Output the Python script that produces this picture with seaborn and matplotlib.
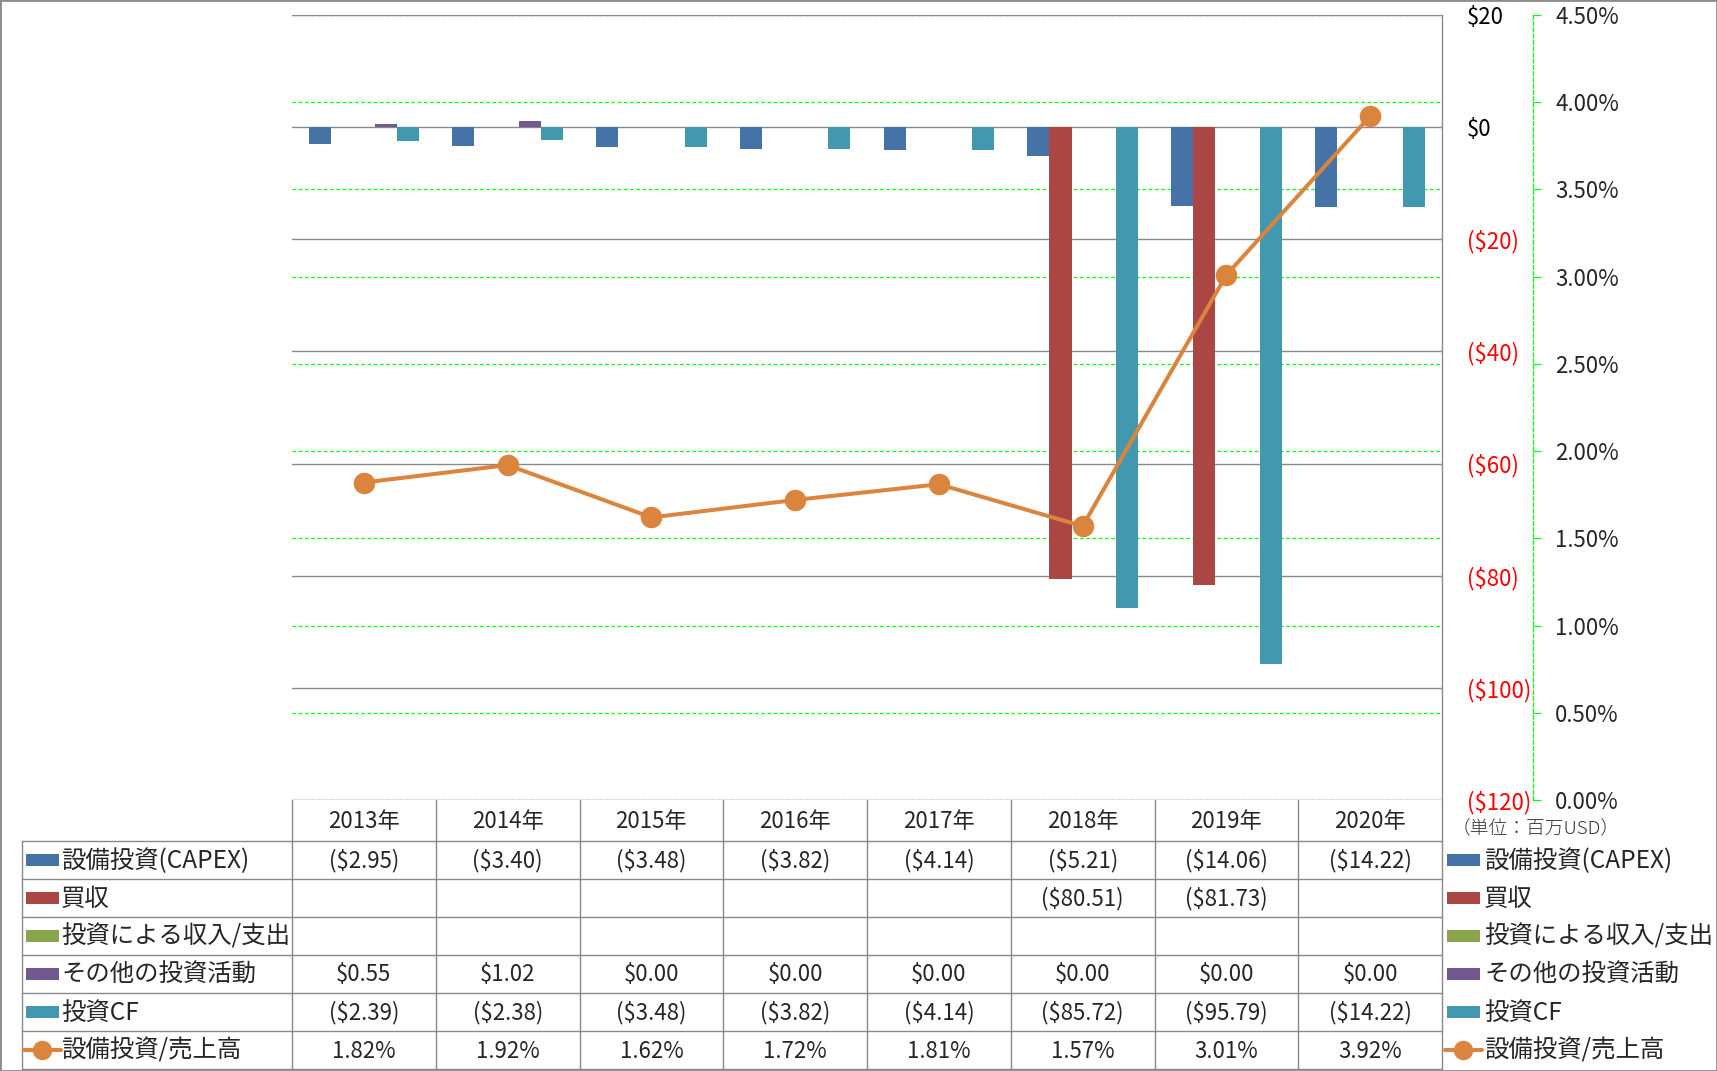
import matplotlib
matplotlib.use("Agg")
import matplotlib.pyplot as plt
import numpy as np
import pandas as pd
import seaborn as sns
from matplotlib.patches import Rectangle
from matplotlib.lines import Line2D

## DATA ##
years = ["2013年", "2014年", "2015年", "2016年", "2017年", "2018年", "2019年", "2020年"]
capex = [-2.95, -3.40, -3.48, -3.82, -4.14, -5.21, -14.06, -14.22]
acquisition = [np.nan, np.nan, np.nan, np.nan, np.nan, -80.51, -81.73, np.nan]
invest_inout = [np.nan] * 8
other_invest = [0.55, 1.02, 0.00, 0.00, 0.00, 0.00, 0.00, 0.00]
invest_cf = [-2.39, -2.38, -3.48, -3.82, -4.14, -85.72, -95.79, -14.22]
capex_ratio = [1.82, 1.92, 1.62, 1.72, 1.81, 1.57, 3.01, 3.92]

bar_names = ["設備投資(CAPEX)", "買収", "投資による収入/支出", "その他の投資活動", "投資CF"]
ratio_name = "設備投資/売上高"
bar_colors = ["#4572A7", "#AA4643", "#89A54E", "#71588F", "#4198AF"]
line_color = "#DB843D"

usd_ticks = [-120, -100, -80, -60, -40, -20, 0, 20]
pct_ticks = [0, 0.5, 1.0, 1.5, 2.0, 2.5, 3.0, 3.5, 4.0, 4.5]

## STYLE ##
sns.set_theme(style="white")
plt.rcParams['font.family'] = ['Noto Sans CJK JP', 'DejaVu Sans']
FS = 16          # numbers / ticks
FS_NAME = 17.6   # series names
GRAY = "#898989"
GREEN = "#00FF00"

# figure geometry in pixels (y from the top)
W, H = 1717, 1071
L, R, T, B = 292, 1442, 15, 800
cw = (R - L) / len(years)

def fx(px):
    return px / W

def fy(py):
    return 1 - py / H

fig = plt.figure(figsize=(W / 100, H / 100), dpi=100)
pos = [fx(L), fy(B), fx(R) - fx(L), fy(T) - fy(B)]

# back axis: secondary (%) scale with green dashed grid
ax_pct = fig.add_axes(pos)
# middle axis: bars on the $ scale
ax = fig.add_axes(pos)
# front axis: the ratio line
ax_line = fig.add_axes(pos)

## BARS ##
wide = pd.DataFrame({"年": years})
for name, vals in zip(bar_names, [capex, acquisition, invest_inout, other_invest, invest_cf]):
    wide[name] = vals
long = wide.melt(id_vars="年", var_name="項目", value_name="金額")

sns.barplot(data=long, x="年", y="金額", hue="項目", order=years, hue_order=bar_names,
            palette=bar_colors, width=5 / 6.5, errorbar=None, legend=False,
            saturation=1, ax=ax, linewidth=0)

ax.set_xlim(-0.5, len(years) - 0.5)
ax.set_ylim(-120, 20)
ax.set_xlabel("")
ax.set_ylabel("")
ax.set_xticks([])
ax.patch.set_visible(False)
ax.set_axisbelow(True)
ax.grid(axis="y", color=GRAY, linewidth=1.0, linestyle="-")
ax.grid(axis="x", visible=False)
for s in ["left", "top", "bottom"]:
    ax.spines[s].set_visible(False)
ax.spines["right"].set_color(GRAY)
ax.spines["right"].set_linewidth(1.0)
ax.yaxis.tick_right()
ax.set_yticks(usd_ticks)
ax.set_yticklabels([f"${v:.0f}" if v >= 0 else f"(${-v:.0f})" for v in usd_ticks])
for lab, v in zip(ax.get_yticklabels(), usd_ticks):
    lab.set_color("black" if v >= 0 else "#FF0000")
ax.tick_params(axis="y", length=0, pad=18, labelsize=FS)

## SECONDARY AXIS ##
ax_pct.set_xlim(-0.5, len(years) - 0.5)
ax_pct.set_ylim(0, 4.5)
ax_pct.set_xticks([])
ax_pct.yaxis.tick_right()
ax_pct.set_yticks(pct_ticks)
ax_pct.set_yticklabels([f"{v:.2f}%" for v in pct_ticks])
ax_pct.grid(axis="y", color=GREEN, linewidth=0.9, linestyle=(0, (3, 2)))
ax_pct.grid(axis="x", visible=False)
for s in ["left", "top", "bottom"]:
    ax_pct.spines[s].set_visible(False)
ax_pct.spines["right"].set_position(("outward", 65.5))
ax_pct.spines["right"].set_color(GREEN)
ax_pct.spines["right"].set_linestyle((0, (3, 2)))
ax_pct.spines["right"].set_linewidth(0.9)
ax_pct.tick_params(axis="y", direction="out", length=6, width=0.9, color=GREEN,
                   pad=10, labelsize=FS)

## LINE ##
sns.lineplot(x=years, y=capex_ratio, sort=False, ax=ax_line, color=line_color,
             linewidth=2.9, marker="o", markersize=15.5, markeredgewidth=0)
ax_line.set_xlim(-0.5, len(years) - 0.5)
ax_line.set_ylim(0, 4.5)
ax_line.axis("off")

## DATA TABLE ##
tax = fig.add_axes([0, 0, 1, fy(B)])
tax.set_xlim((0 - L) / cw - 0.5, (W - L) / cw - 0.5)
tax.set_ylim(H, B)
tax.axis("off")

def c(px):
    return (px - L) / cw - 0.5

row_edges = [841, 879, 917, 955, 993, 1031, 1069]
tab_left = c(22)

for ye in row_edges:
    tax.plot([tab_left, len(years) - 0.5], [ye, ye], color=GRAY, lw=1.0, clip_on=False)
for k in range(len(years) + 1):
    tax.plot([k - 0.5, k - 0.5], [B, row_edges[-1]], color=GRAY, lw=1.0, clip_on=False)
tax.plot([tab_left, tab_left], [row_edges[0], row_edges[-1]], color=GRAY, lw=1.0)

for i, yr in enumerate(years):
    tax.text(i, (B + row_edges[0]) / 2 + 1, yr, ha="center", va="center", fontsize=FS)

def money(v):
    if np.isnan(v):
        return ""
    return f"${v:.2f}" if v >= 0 else f"(${-v:.2f})"

table_rows = [capex, acquisition, invest_inout, other_invest, invest_cf]
row_mid = [(row_edges[k] + row_edges[k + 1]) / 2 for k in range(6)]

for k, vals in enumerate(table_rows):
    for i, v in enumerate(vals):
        tax.text(i, row_mid[k] + 1, money(v), ha="center", va="center", fontsize=FS)
for i, v in enumerate(capex_ratio):
    tax.text(i, row_mid[5] + 1, f"{v:.2f}%", ha="center", va="center", fontsize=FS)

# legend keys: left in the table, right beside it
for key_px, txt_px in [(26, 61), (1447, 1484)]:
    kw = c(key_px + 33) - c(key_px)
    for k, name in enumerate(bar_names):
        tax.add_patch(Rectangle((c(key_px), row_mid[k] - 6), kw, 12,
                                facecolor=bar_colors[k], edgecolor="none"))
        tax.text(c(txt_px), row_mid[k] + 1, name, ha="left", va="center", fontsize=FS_NAME)
    tax.add_line(Line2D([c(key_px - 2), c(key_px + 35)], [row_mid[5], row_mid[5]],
                        color=line_color, lw=2.9))
    tax.plot([c(key_px + 16)], [row_mid[5]], marker="o", ms=14, mew=0, color=line_color)
    tax.text(c(txt_px), row_mid[5] + 1, ratio_name, ha="left", va="center", fontsize=FS_NAME)

tax.text(c(1452), 828, "（単位：百万USD）", ha="left", va="center", fontsize=13.5,
         color="#333333", fontweight="light")

# chart border
fig.add_artist(Rectangle((0, 0), 1, 1, transform=fig.transFigure, fill=False,
                         edgecolor="#8C8C8C", lw=2))

fig.savefig("out.png", dpi=100)
